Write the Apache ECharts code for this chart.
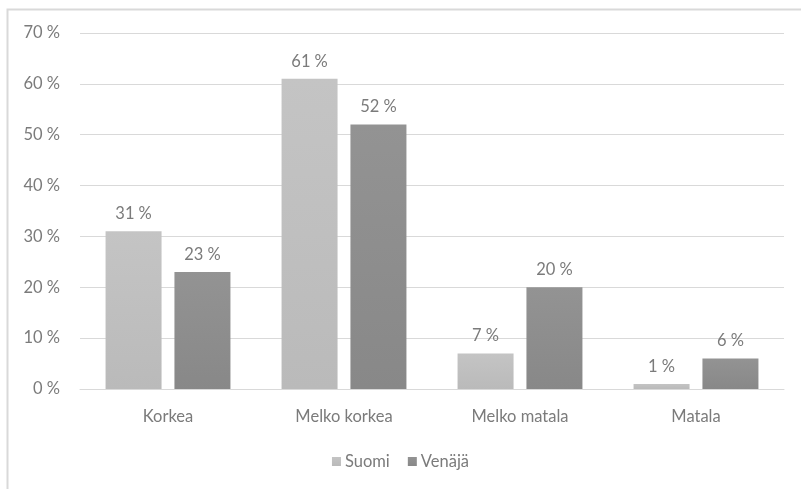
<!DOCTYPE html>
<html>
<head>
<meta charset="utf-8">
<script src="https://cdn.jsdelivr.net/npm/echarts@6/dist/echarts.min.js"></script>
<style>
  html, body { margin: 0; padding: 0; background: #ffffff; }
  #chart { width: 801px; height: 489px; }
</style>
</head>
<body>
<div id="chart"></div>
<script>
// Arvioitu asumistaso: Suomi vs. Venäjä
const categories = ['Korkea', 'Melko korkea', 'Melko matala', 'Matala'];
const suomi = [31, 61, 7, 1];
const venaja = [23, 52, 20, 6];
const seriesNames = ['Suomi', 'Venäjä'];

const textColor = '#7b7b7b';
const fontFamily = 'Lato, "Open Sans", sans-serif';
const fontSize = 16.5;
const pct = v => v + '\u2005%';

const chart = echarts.init(document.getElementById('chart'), null, { renderer: 'canvas' });

function barColor(top, bottom) {
  return new echarts.graphic.LinearGradient(0, 0, 0, 1, [
    { offset: 0, color: top },
    { offset: 1, color: bottom }
  ]);
}

const labelStyle = {
  show: true,
  position: 'top',
  distance: 9,
  color: textColor,
  fontFamily: fontFamily,
  fontSize: fontSize,
  formatter: p => pct(p.value)
};

chart.setOption({
  backgroundColor: '#ffffff',
  animation: false,
  textStyle: { fontFamily: fontFamily },
  graphic: [{
    type: 'rect',
    shape: { x: 7.5, y: 9.5, width: 900, height: 600 },
    style: { fill: 'none', stroke: '#d9d9d9', lineWidth: 2 },
    silent: true
  }],
  grid: { left: 80, right: 17, top: 33, bottom: 100, containLabel: false },
  legend: {
    bottom: 14,
    left: 'center',
    itemWidth: 9,
    itemHeight: 9,
    itemGap: 18,
    icon: 'rect',
    textStyle: { color: textColor, fontSize: fontSize, fontFamily: fontFamily, padding: [0, 0, 0, -1] },
    data: seriesNames
  },
  xAxis: {
    type: 'category',
    data: categories,
    axisLine: { show: true, lineStyle: { color: '#d9d9d9', width: 1 } },
    axisTick: { show: false },
    axisLabel: { color: textColor, fontSize: fontSize, fontFamily: fontFamily, margin: 19 }
  },
  yAxis: {
    type: 'value',
    min: 0,
    max: 70,
    interval: 10,
    axisLine: { show: false },
    axisTick: { show: false },
    axisLabel: {
      color: textColor, fontSize: fontSize, fontFamily: fontFamily, margin: 20,
      formatter: v => pct(v)
    },
    splitLine: { lineStyle: { color: '#d9d9d9', width: 1 } }
  },
  series: [
    {
      name: seriesNames[0],
      type: 'bar',
      data: suomi,
      barWidth: 56,
      barGap: '23%',
      itemStyle: { color: barColor('#c4c4c4', '#bababa') },
      label: labelStyle
    },
    {
      name: seriesNames[1],
      type: 'bar',
      data: venaja,
      barWidth: 56,
      itemStyle: { color: barColor('#939393', '#888888') },
      label: labelStyle
    }
  ]
});
</script>
</body>
</html>
